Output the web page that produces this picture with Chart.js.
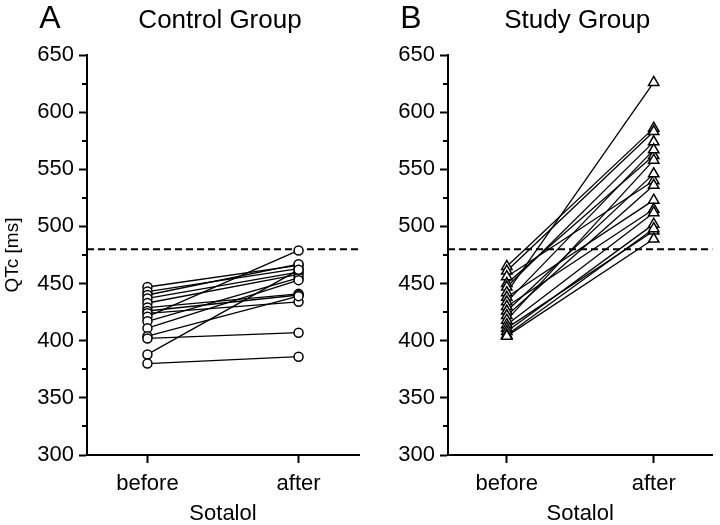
<!DOCTYPE html>
<html><head><meta charset="utf-8">
<script src="https://cdn.jsdelivr.net/npm/chart.js@4/dist/chart.umd.min.js"></script>
<style>
html,body{margin:0;padding:0;background:#fff;}
#wrap{position:relative;width:720px;height:525px;overflow:hidden;}
canvas{position:absolute;top:0;}
</style></head><body>
<div id="wrap">
<canvas id="cA" style="left:0px" width="365" height="525"></canvas>
<canvas id="cB" style="left:365px" width="355" height="525"></canvas>
</div>
<script>
// ---- data ----
const conditions = ['before', 'after'];
const controlBefore = [447, 443, 440, 437, 433, 429, 426, 424, 421, 417, 411, 404, 402, 388, 380];
const controlAfter  = [466, 463, 467, 460, 458, 441, 440, 434, 479, 455, 453, 439, 407, 462, 386];
const studyBefore = [465, 461, 456, 450, 447, 442, 438, 434, 430, 426, 422, 418, 414, 411, 408, 405, 404];
const studyAfter  = [586, 583, 540, 562, 574, 626, 523, 567, 515, 546, 536, 558, 512, 496, 502, 498, 489];
const yTickValues = [300, 350, 400, 450, 500, 550, 600, 650];
const yMinorValues = [325, 375, 425, 475, 525, 575, 625];
const threshold = 480;
const panelLetters = ['A', 'B'];
const panelTitles = ['Control Group', 'Study Group'];
const yAxisTitle = 'QTc [ms]';
const xAxisTitle = 'Sotalol';

const FONT = "'Liberation Sans', Arial, sans-serif";

const decoPlugin = {
  id: 'deco',
  afterDraw(chart, args, opts) {
    const ctx = chart.ctx;
    const ca = chart.chartArea;
    const ys = chart.scales.y;
    ctx.save();
    // minor ticks
    ctx.strokeStyle = '#000';
    ctx.lineWidth = 2;
    yMinorValues.forEach(v => {
      const py = Math.round(ys.getPixelForValue(v));
      ctx.beginPath();
      ctx.moveTo(ca.left - 5, py);
      ctx.lineTo(ca.left, py);
      ctx.stroke();
    });
    // panel letter and title
    ctx.fillStyle = '#000';
    ctx.textBaseline = 'alphabetic';
    ctx.textAlign = 'center';
    ctx.font = '32px ' + FONT;
    ctx.fillText(opts.letter, ca.left - 37, 28);
    ctx.font = '26px ' + FONT;
    ctx.fillText(opts.title, (ca.left + ca.right) / 2 - 3, 28);
    ctx.restore();
  }
};

function makeChart(id, before, after, marker, radius, letter, title, showYTitle, yWidth, padRight) {
  const datasets = [];
  // threshold dashed line
  datasets.push({
    data: [{x: -0.4, y: threshold}, {x: 1.4, y: threshold}],
    showLine: true, borderColor: '#000', borderWidth: 2, borderDash: [7, 4],
    pointRadius: 0, order: 3
  });
  // subject lines
  before.forEach((b, i) => {
    datasets.push({
      data: [{x: 0, y: b}, {x: 1, y: after[i]}],
      showLine: true, borderColor: '#000', borderWidth: 1.3,
      pointRadius: 0, order: 2
    });
  });
  // markers
  datasets.push({
    data: before.map(b => ({x: 0, y: b})),
    showLine: false, pointStyle: marker, pointRadius: radius,
    pointBackgroundColor: '#fff', pointBorderColor: '#000', pointBorderWidth: 1.5, order: 0
  });
  datasets.push({
    data: after.map(a => ({x: 1, y: a})),
    showLine: false, pointStyle: marker, pointRadius: radius,
    pointBackgroundColor: '#fff', pointBorderColor: '#000', pointBorderWidth: 1.5, order: 0
  });

  return new Chart(document.getElementById(id), {
    type: 'scatter',
    data: { datasets },
    plugins: [decoPlugin],
    options: {
      responsive: false, animation: false, devicePixelRatio: 1,
      layout: { padding: { top: 55, right: padRight, bottom: 0, left: 0 } },
      plugins: { legend: { display: false }, tooltip: { enabled: false }, deco: { letter, title } },
      scales: {
        x: {
          type: 'linear', min: -0.4, max: 1.4,
          afterBuildTicks: s => { s.ticks = conditions.map((c, i) => ({ value: i })); },
          afterFit: s => { s.height = 70; },
          ticks: { callback: v => conditions[v], color: '#000', font: { family: FONT, size: 22 }, padding: 8, maxRotation: 0 },
          grid: { drawOnChartArea: false, drawTicks: true, tickLength: 8, tickWidth: 2, tickColor: '#000' },
          border: { display: true, color: '#000', width: 2 },
          title: { display: true, text: xAxisTitle, color: '#000', font: { family: FONT, size: 22, lineHeight: 1.0 }, padding: { top: 0, bottom: 0 } }
        },
        y: {
          type: 'linear', min: 300, max: 650,
          afterBuildTicks: s => { s.ticks = yTickValues.map(v => ({ value: v })); },
          afterFit: s => { s.width = yWidth; },
          ticks: { color: '#000', font: { family: FONT, size: 22 }, padding: 5 },
          grid: { drawOnChartArea: false, drawTicks: true, tickLength: 8, tickWidth: 2, tickColor: '#000' },
          border: { display: true, color: '#000', width: 2 },
          title: { display: showYTitle, text: yAxisTitle, color: '#000', font: { family: FONT, size: 19, lineHeight: 1.2 }, padding: { top: 1, bottom: 0 } }
        }
      }
    }
  });
}

makeChart('cA', controlBefore, controlAfter, 'circle', 4.5, panelLetters[0], panelTitles[0], true, 87, 6);
makeChart('cB', studyBefore, studyAfter, 'triangle', 6, panelLetters[1], panelTitles[1], false, 83, 0);
</script>
</body></html>
